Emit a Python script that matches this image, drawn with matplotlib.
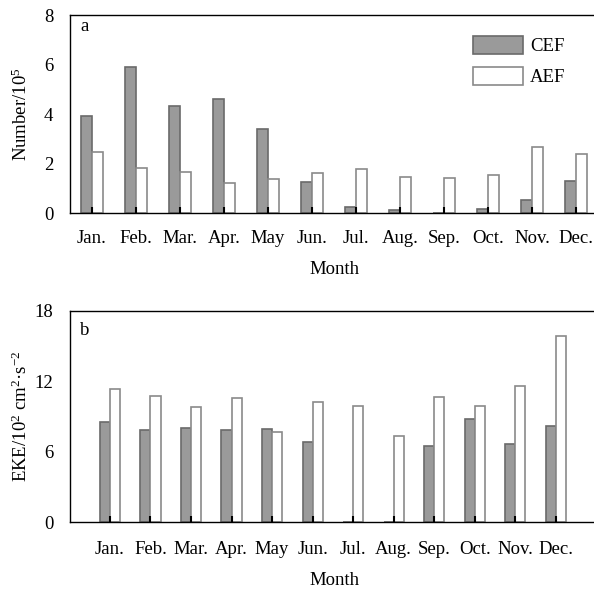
import matplotlib
matplotlib.use("Agg")
import matplotlib.pyplot as plt
import numpy as np

plt.rcParams["font.family"] = ["Liberation Serif", "DejaVu Serif"]
plt.rcParams["mathtext.fontset"] = "custom"
plt.rcParams["mathtext.rm"] = "Liberation Serif"
plt.rcParams["mathtext.it"] = "Liberation Serif:italic"
plt.rcParams["mathtext.bf"] = "Liberation Serif:bold"

months = ["Jan.", "Feb.", "Mar.", "Apr.", "May", "Jun.",
          "Jul.", "Aug.", "Sep.", "Oct.", "Nov.", "Dec."]

# (a) eddy counts, units of 10^5
cef_count = [3.93, 5.91, 4.31, 4.61, 3.38, 1.27, 0.23, 0.13, 0.0, 0.16, 0.54, 1.29]
aef_count = [2.46, 1.83, 1.66, 1.21, 1.36, 1.60, 1.77, 1.47, 1.40, 1.55, 2.68, 2.38]

# (b) eddy kinetic energy, units of 10^2 cm^2 s^-2
cef_eke = [8.49, 7.81, 8.03, 7.81, 7.89, 6.79, 0.0, 0.0, 6.47, 8.80, 6.62, 8.18]
aef_eke = [11.33, 10.71, 9.77, 10.59, 7.69, 10.22, 9.85, 7.33, 10.65, 9.85, 11.58, 15.87]

FS = 13.5
W = 0.25
cef_style = dict(facecolor="#9a9a9a", edgecolor="#6a6a6a", linewidth=1.2)
aef_style = dict(facecolor="white", edgecolor="#8a8a8a", linewidth=1.2)

fig = plt.figure(figsize=(5.94, 5.93), dpi=100)
ax_a = fig.add_axes([0.1178, 0.6408, 0.8822, 0.3339])
ax_b = fig.add_axes([0.1178, 0.1197, 0.8822, 0.3564])


def style_axes(ax, xlim, ylim, yticks, xpad):
    x = np.arange(len(months))
    ax.set_xlim(*xlim)
    ax.set_ylim(*ylim)
    ax.set_xticks(x)
    ax.set_xticklabels(months, fontsize=FS)
    ax.set_yticks(yticks)
    ax.set_yticklabels([str(t) for t in yticks], fontsize=FS)
    ax.spines["right"].set_visible(False)
    for s in ("left", "bottom", "top"):
        ax.spines[s].set_linewidth(1.0)
        ax.spines[s].set_color("black")
    ax.tick_params(axis="x", direction="in", length=4.3, width=1.5,
                   color="black", pad=xpad)
    ax.tick_params(axis="y", length=0, pad=12)


x = np.arange(len(months))

# Panel a
ax_a.bar(x - W / 2, cef_count, W, label="CEF", **cef_style)
ax_a.bar(x + W / 2, aef_count, W, label="AEF", **aef_style)
style_axes(ax_a, (-0.5, 11.41), (0, 8), [0, 2, 4, 6, 8], 12.5)
ax_a.set_ylabel(r"Number/10$^{5}$", fontsize=FS)
ax_a.yaxis.set_label_coords(-0.074, 0.5)
ax_a.set_xlabel("Month", fontsize=FS)
ax_a.xaxis.set_label_coords(0.504, -0.24)
ax_a.text(0.019, 0.919, "a", transform=ax_a.transAxes, fontsize=FS,
          ha="left", va="baseline")
ax_a.legend(loc="upper left", bbox_to_anchor=(0.769, 0.895), frameon=False,
            fontsize=FS, handlelength=2.67, handleheight=1.12,
            labelspacing=0.6, handletextpad=0.38, borderpad=0,
            borderaxespad=0)

# Panel b
ax_b.bar(x - W / 2, cef_eke, W, **cef_style)
ax_b.bar(x + W / 2, aef_eke, W, **aef_style)
style_axes(ax_b, (-0.986, 11.94), (0, 18), [0, 6, 12, 18], 14)
ax_b.set_ylabel(r"EKE/10$^{2}$ cm$^{2}$·s$^{-2}$", fontsize=FS)
ax_b.yaxis.set_label_coords(-0.074, 0.5)
ax_b.set_xlabel("Month", fontsize=FS)
ax_b.xaxis.set_label_coords(0.504, -0.238)
ax_b.text(0.019, 0.885, "b", transform=ax_b.transAxes, fontsize=FS,
          ha="left", va="baseline")

fig.savefig("out.png", dpi=100)
